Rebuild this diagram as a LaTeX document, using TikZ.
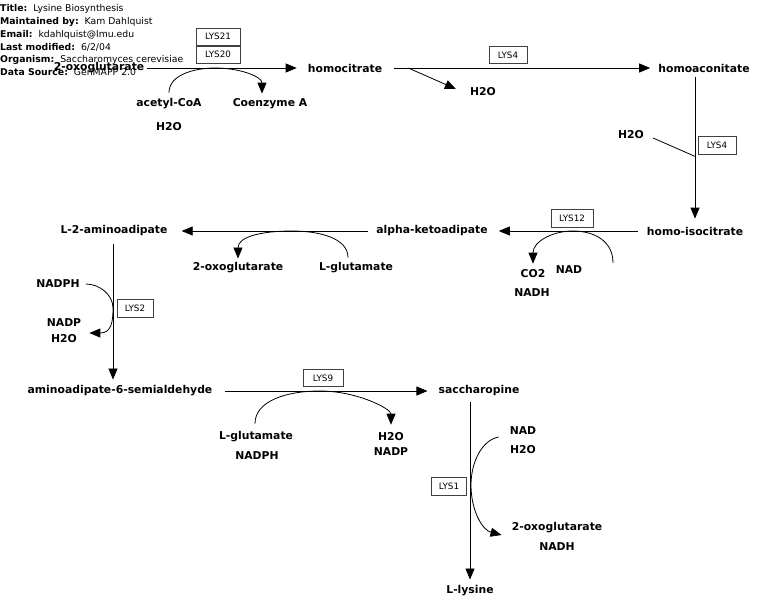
\documentclass[tikz,border=0pt]{standalone}
\usepackage{fontspec}
\setmainfont{DejaVu Sans}
\usetikzlibrary{arrows.meta,calc}
\begin{document}
\begin{tikzpicture}[x=1pt,y=-1pt,
  met/.style={font=\fontsize{10.8}{12}\selectfont\bfseries, inner sep=0pt},
  hdr/.style={font=\fontsize{9.3}{11}\selectfont, inner sep=0pt, anchor=west},
  enz/.style={draw=black!75, line width=0.6pt, font=\fontsize{8.8}{10}\selectfont, inner sep=0pt, fill=white},
  rx/.style={line width=0.8pt, -{Triangle[length=11pt,width=9pt]}},
  ln/.style={line width=0.8pt}]
\useasboundingbox (0,0) rectangle (770,613);
% header
\node[hdr] (t1) at (0,9) {\textbf{Title:}\ \ Lysine Biosynthesis};
\node[hdr] (t2) at (0,22) {\textbf{Maintained by:}\ \ Kam Dahlquist};
\node[hdr] (t3) at (0,35) {\textbf{Email:}\ \ kdahlquist@lmu.edu};
\node[hdr] (t4) at (0,47) {\textbf{Last modified:}\ \ 6/2/04};
\node[hdr] (t5) at (0,60) {\textbf{Organism:}\ \ Saccharomyces cerevisiae};
\node[hdr] (t6) at (0,72) {\textbf{Data Source:}\ \ GenMAPP 2.0};
% metabolites
\node[met] (oxo1) at (99,68) {2-oxoglutarate};
\node[met] (homocit) at (345,68) {homocitrate};
\node[met] (acoa) at (169,104) {acetyl-CoA};
\node[met] (coa) at (270,104) {Coenzyme A};
\node[met] (h2oa) at (169,127) {H2O};
\node[met] (h2ob) at (483,92) {H2O};
\node[met] (homoacon) at (704,68) {homoaconitate};
\node[met] (h2oc) at (631,135) {H2O};
\node[met] (homoiso) at (695,231) {homo-isocitrate};
\node[met] (alphak) at (432,231) {alpha-ketoadipate};
\node[met] (co2) at (533,274) {CO2};
\node[met] (nad1) at (569,270) {NAD};
\node[met] (nadh1) at (532,293) {NADH};
\node[met] (l2aa) at (114,231) {L-2-aminoadipate};
\node[met] (oxo2) at (238,268) {2-oxoglutarate};
\node[met] (lglu1) at (356,268) {L-glutamate};
\node[met] (nadph1) at (58,284) {NADPH};
\node[met] (nadp1) at (64,323) {NADP};
\node[met] (h2od) at (64,339) {H2O};
\node[met] (aasa) at (120,391) {aminoadipate-6-semialdehyde};
\node[met] (sacch) at (479,391) {saccharopine};
\node[met] (lglu2) at (256,437) {L-glutamate};
\node[met] (nadph2) at (257,456) {NADPH};
\node[met] (h2oe) at (391,437) {H2O};
\node[met] (nadp2) at (391,452) {NADP};
\node[met] (nad2) at (523,431) {NAD};
\node[met] (h2of) at (523,450) {H2O};
\node[met] (oxo3) at (557,528) {2-oxoglutarate};
\node[met] (nadh2) at (557,547) {NADH};
\node[met] (lys) at (470,591) {L-lysine};
% enzymes
\node[enz, minimum width=44pt, minimum height=17pt] (lys21) at (218,36.5) {LYS21};
\node[enz, minimum width=44pt, minimum height=17pt] (lys20) at (218,54.5) {LYS20};
\node[enz, minimum width=38pt, minimum height=17pt] (lys4a) at (508,55) {LYS4};
\node[enz, minimum width=38pt, minimum height=18pt] (lys4b) at (717,145) {LYS4};
\node[enz, minimum width=42pt, minimum height=18pt] (lys12) at (572,218) {LYS12};
\node[enz, minimum width=36pt, minimum height=18pt] (lys2) at (135,308) {LYS2};
\node[enz, minimum width=40pt, minimum height=17pt] (lys9) at (323,378) {LYS9};
\node[enz, minimum width=35pt, minimum height=18pt] (lys1) at (449,486) {LYS1};
% reactions
\draw[rx] ([xshift=3]oxo1.east) -- ([xshift=-11]homocit.west);
\draw[ln] ($(acoa.north)+(0,-6)$) .. controls +(0,-18) and (195,68) .. (215,68);
\draw[rx] (215,68) .. controls (240,68) and ($(coa.north)+(-8,-22)$) .. ($(coa.north)+(-8,-5)$);
\draw[rx] ([xshift=12]homocit.east) -- ([xshift=-8]homoacon.west);
\coordinate (br1) at ($(homocit.east)+(26,0)$);
\draw[rx] (br1) -- ([xshift=-14,yshift=3]h2ob.west);
\draw[rx] ($(homoacon.south)+(-9,5)$) -- ($(homoiso.north)+(0,-8)$);
\draw[ln] ([xshift=9,yshift=-3]h2oc.east) -- ($(homoacon.south)+(-9,84)$);
\draw[rx] ([xshift=-9]homoiso.west) -- ([xshift=11]alphak.east);
\draw[ln] ($(nad1.north)+(44,-3)$) .. controls +(0,-22) and (594,231) .. (573,231);
\draw[rx] (573,231) .. controls (552,231) and ($(co2.north)+(0,-28)$) .. ($(co2.north)+(0,-6)$);
\draw[rx] ([xshift=-8]alphak.west) -- ([xshift=14]l2aa.east);
\draw[ln] ($(lglu1.north)+(-8,-5)$) .. controls +(0,-20) and (318,231) .. (292,231);
\draw[rx] (292,231) .. controls (262,231) and ($(oxo2.north)+(0,-26)$) .. ($(oxo2.north)+(0,-4)$);
\draw[rx] ($(l2aa.south)+(-1,8)$) -- ($(aasa.north)+(-7,-6)$);
\draw[ln] ([xshift=6]nadph1.east) .. controls +(14,0) and (113,295) .. (113,308);
\draw[rx] (113,308) .. controls (113,322) and ($(nadp1.east)+(30,10)$) .. ($(nadp1.east)+(8,10)$);
\draw[rx] ([xshift=12]aasa.east) -- ([xshift=-11]sacch.west);
\draw[ln] ($(lglu2.north)+(-1,-8)$) .. controls +(0,-22) and (285,391) .. (320,391);
\draw[rx] (320,391) .. controls (357,391) and ($(h2oe.north)+(0,-24)$) .. ($(h2oe.north)+(0,-8)$);
\draw[rx] ($(sacch.south)+(-9,6)$) -- ($(lys.north)+(0,-6)$);
\draw[ln] ([xshift=-11,yshift=-6]nad2.west) .. controls (482,440) and (471,462) .. (471,485);
\draw[rx] (471,485) .. controls (471,510) and (482,530) .. ([xshift=-10,yshift=-7]oxo3.west);
\end{tikzpicture}
\end{document}
